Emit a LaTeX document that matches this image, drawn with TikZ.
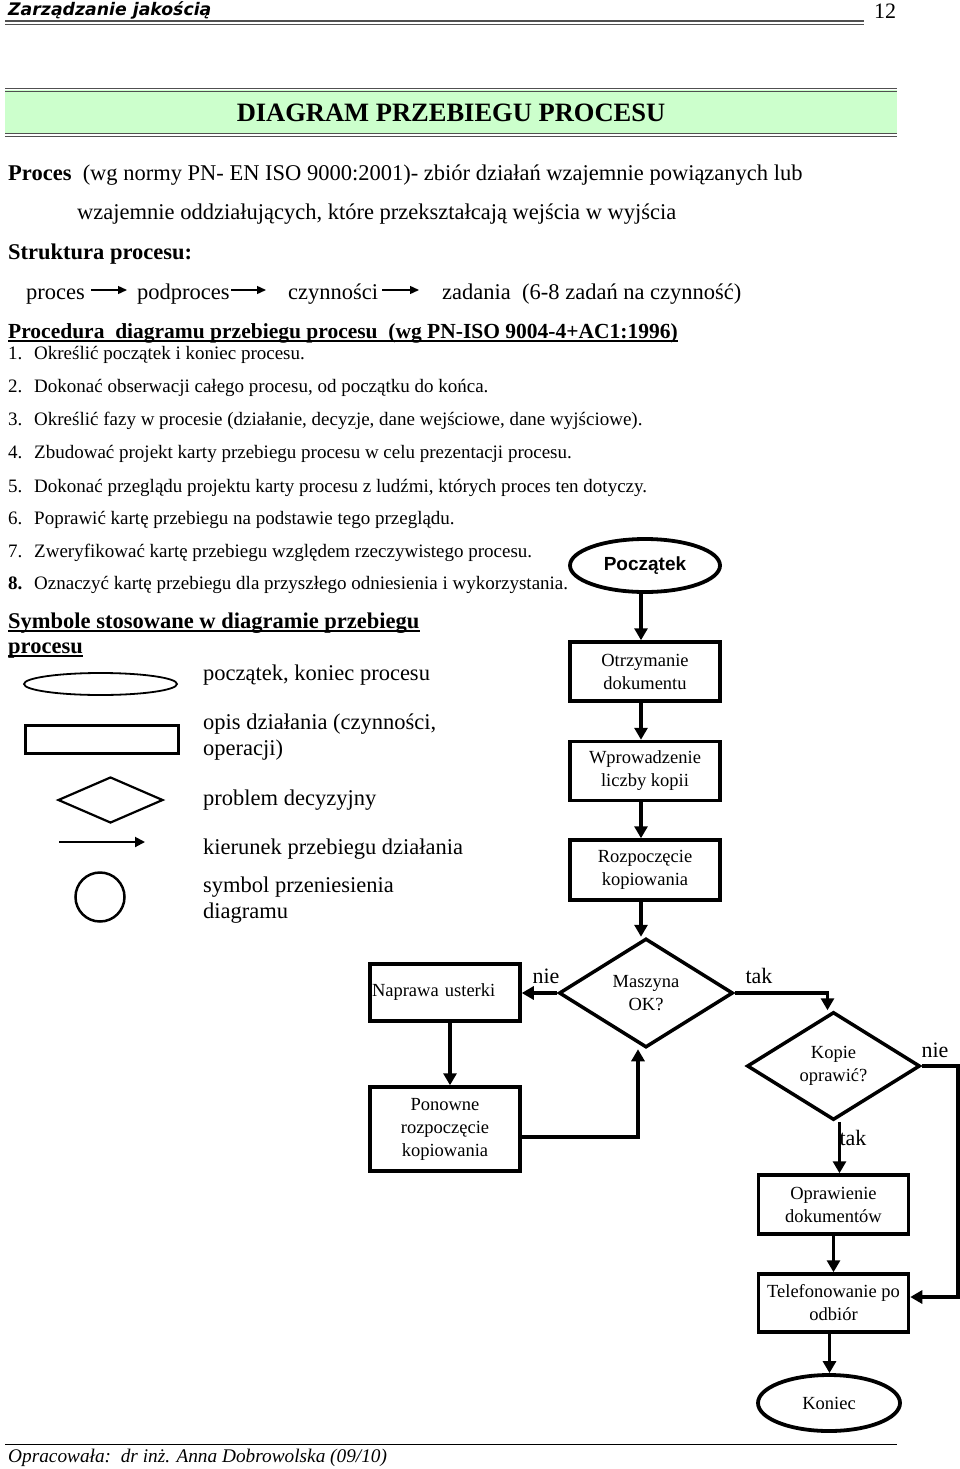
\documentclass[tikz,border=0pt]{standalone}
\usepackage{fontspec}
\usepackage{graphicx}
\setmainfont{Liberation Serif}
\newfontfamily\hdrfont{DejaVu Sans}
\newfontfamily\arialfont{Liberation Sans}
\usetikzlibrary{arrows.meta,shapes.geometric}
\newcommand{\fsz}[2]{\fontsize{#1}{#2}\selectfont}
\definecolor{bandgreen}{RGB}{204,255,204}
\definecolor{rulegray}{RGB}{80,80,80}
\begin{document}
\begin{tikzpicture}[x=1pt,y=-1pt,
  txt/.style={inner sep=0pt, anchor=base west, font=\fsz{22.5}{27}},
  lst/.style={inner sep=0pt, anchor=base west, font=\fsz{19}{22}},
  lgd/.style={inner sep=0pt, anchor=west, align=left, font=\fsz{22.5}{26}},
  fbox/.style={draw, line width=3.5pt, minimum width=150pt, minimum height=59pt, align=center, inner sep=0pt, font=\fsz{18.5}{23}},
  fell/.style={draw, ellipse, line width=3.8pt, inner sep=0pt},
  fdia/.style={draw, diamond, line width=3.5pt, aspect=1.6, inner sep=0pt, align=center, font=\fsz{18.5}{23}},
  farr/.style={line width=3.5pt, -{Triangle[length=12pt,width=13pt]}},
  sarr/.style={line width=1.4pt, -{Triangle[length=9pt,width=8pt]}},
  flab/.style={inner sep=0pt, font=\fsz{22}{24}}
]
\useasboundingbox (0,0) rectangle (960,1469);

% ---------- header ----------
\node[inner sep=0pt, anchor=west, font=\hdrfont\bfseries\itshape\fsz{17.3}{19}] (hdr) at (8,10) {Zarządzanie jakością};
\node[inner sep=0pt, anchor=west, font=\fsz{22}{24}] (pgnum) at (874,11) {12};
\draw[rulegray, line width=1.6pt] (5,21) -- (864,21);
\draw[rulegray, line width=0.8pt] (5,24) -- (864,24);

% ---------- title band ----------
\fill[bandgreen] (5,90) rectangle (897,134);
\draw[rulegray, line width=1.8pt] (5,88.5) -- (897,88.5);
\draw[rulegray, line width=0.8pt] (5,91.5) -- (897,91.5);
\draw[rulegray, line width=1.8pt] (5,133.5) -- (897,133.5);
\draw[rulegray, line width=0.8pt] (5,136.5) -- (897,136.5);
\node[inner sep=0pt, font=\bfseries\fsz{26.5}{28}] (title) at (451,113) {DIAGRAM PRZEBIEGU PROCESU};

% ---------- definition ----------
\node[txt] (def1) at (8,180) {{\bfseries Proces}\ \ (wg normy PN- EN ISO 9000:2001)- zbiór działań wzajemnie powiązanych lub};
\node[txt] (def2) at (77,219) {wzajemnie oddziałujących, które przekształcają wejścia w wyjścia};
\node[txt, font=\bfseries\fsz{22.5}{27}] (str) at (8,259) {Struktura procesu:};

% ---------- structure ----------
\node[txt] (s1) at (26,299) {proces};
\node[txt] (s2) at (137,299) {podproces};
\node[txt] (s3) at (288,299) {czynności};
\node[txt] (s4) at (442,299) {zadania\ \ (6-8 zadań na czynność)};
\coordinate (a1s) at (91,290); \coordinate (a1e) at (127,290);
\coordinate (a2s) at (231,290); \coordinate (a2e) at (266,290);
\coordinate (a3s) at (382,290); \coordinate (a3e) at (419,290);
\draw[sarr] (a1s) -- (a1e);
\draw[sarr] (a2s) -- (a2e);
\draw[sarr] (a3s) -- (a3e);

% ---------- procedure ----------
\node[txt, font=\bfseries\fsz{21.5}{26}] (proc) at (8,338) {Procedura\ \ diagramu przebiegu procesu\ \ (wg PN-ISO 9004-4+AC1:1996)};
\draw[line width=1.2pt] ([yshift=-3pt]proc.base west) -- ([yshift=-3pt]proc.base east);

\node[lst] (n1) at (8,359) {1.};  \node[lst] (t1) at (34,359) {Określić początek i koniec procesu.};
\node[lst] (n2) at (8,392) {2.};  \node[lst] (t2) at (34,392) {Dokonać obserwacji całego procesu, od początku do końca.};
\node[lst] (n3) at (8,425) {3.};  \node[lst] (t3) at (34,425) {Określić fazy w procesie (działanie, decyzje, dane wejściowe, dane wyjściowe).};
\node[lst] (n4) at (8,458) {4.};  \node[lst] (t4) at (34,458) {Zbudować projekt karty przebiegu procesu w celu prezentacji procesu.};
\node[lst] (n5) at (8,492) {5.};  \node[lst] (t5) at (34,492) {Dokonać przeglądu projektu karty procesu z ludźmi, których proces ten dotyczy.};
\node[lst] (n6) at (8,524) {6.};  \node[lst] (t6) at (34,524) {Poprawić kartę przebiegu na podstawie tego przeglądu.};
\node[lst] (n7) at (8,557) {7.};  \node[lst] (t7) at (34,557) {Zweryfikować kartę przebiegu względem rzeczywistego procesu.};
\node[lst, font=\bfseries\fsz{19}{22}] (n8) at (8,589) {8.};  \node[lst] (t8) at (34,589) {Oznaczyć kartę przebiegu dla przyszłego odniesienia i wykorzystania.};

% ---------- symbols legend ----------
\node[txt, font=\bfseries\fsz{22.5}{27}] (sym1) at (8,628) {Symbole stosowane w diagramie przebiegu};
\draw[line width=1.2pt] ([yshift=-3pt]sym1.base west) -- ([yshift=-3pt]sym1.base east);
\node[txt, font=\bfseries\fsz{22.5}{27}] (sym2) at (8,653) {procesu};
\draw[line width=1.2pt] ([yshift=-3pt]sym2.base west) -- ([yshift=-3pt]sym2.base east);

\node[draw, ellipse, line width=1.8pt, minimum width=153pt, minimum height=22pt, inner sep=0pt] (le) at (100.5,684) {};
\node[lgd] (lt1) at (203,675) {początek, koniec procesu};
\node[draw, line width=3pt, minimum width=153pt, minimum height=28pt, inner sep=0pt] (lr) at (102,739) {};
\node[lgd] (lt2) at (203,737) {opis działania (czynności,\\operacji)};
\node[draw, diamond, line width=2.2pt, minimum width=105pt, minimum height=46pt, aspect=2.3, inner sep=0pt] (ld) at (110.5,800) {};
\node[lgd] (lt3) at (203,800) {problem decyzyjny};
\coordinate (la1) at (59,842); \coordinate (la2) at (145,842);
\draw[line width=2pt, -{Triangle[length=10pt,width=10pt]}] (la1) -- (la2);
\node[lgd] (lt4) at (203,849) {kierunek przebiegu działania};
\node[draw, circle, line width=2.5pt, minimum size=49pt, inner sep=0pt] (lc) at (100,897) {};
\node[lgd] (lt5) at (203,900) {symbol przeniesienia\\diagramu};

% ---------- flowchart ----------
\node[fell, minimum width=150pt, minimum height=53pt, font=\arialfont\bfseries\fsz{19}{22}] (pocz) at (645,565.5) {Początek};
\node[fbox] (otrz) at (645,671.5) {Otrzymanie\\dokumentu};
\node[fbox] (wpro) at (645,771) {Wprowadzenie\\liczby kopii};
\node[fbox, minimum height=60pt] (rozp) at (645,870) {Rozpoczęcie\\kopiowania};
\node[fdia, minimum width=174pt, minimum height=109pt] (masz) at (646,993) {Maszyna\\OK?};
\node[fbox, minimum height=57pt, text width=146pt, align=left, inner xsep=2pt] (napr) at (445,992.5) {Naprawa usterki};
\node[fbox, minimum height=84pt] (pono) at (445,1129) {Ponowne\\rozpoczęcie\\kopiowania};
\node[fdia, minimum width=173pt, minimum height=108pt] (kopi) at (833.5,1066) {Kopie\\oprawić?};
\node[fbox] (opra) at (833.5,1204.5) {Oprawienie\\dokumentów};
\node[fbox, minimum height=58pt] (tele) at (833.5,1303) {Telefonowanie po\\odbiór};
\node[fell, minimum width=142pt, minimum height=56pt, font=\fsz{18.5}{22}] (koni) at (829,1403) {Koniec};

\draw[farr] ([xshift=-4pt]pocz.south) -- ([xshift=-4pt]otrz.north);
\draw[farr] ([xshift=-4pt]otrz.south) -- ([xshift=-4pt]wpro.north);
\draw[farr] ([xshift=-4pt]wpro.south) -- ([xshift=-4pt]rozp.north);
\draw[farr] ([xshift=-4pt]rozp.south) -- ([xshift=-4pt]rozp.south |- masz.north);
\draw[farr] (masz.west) -- (masz.west -| napr.east);
\draw[farr] ([xshift=5pt]napr.south) -- ([xshift=5pt]pono.north);
\draw[farr] ([yshift=-8pt]pono.east) -| ([xshift=-8pt]masz.south);
\draw[farr] (masz.east) -| ([xshift=-6pt]kopi.north);
\draw[farr] ([xshift=6pt]kopi.south) -- ([xshift=6pt]opra.north);
\draw[farr] (kopi.east) -- ++(36,0) |- ([yshift=6pt]tele.east);
\draw[farr] (opra) -- (tele);
\draw[farr] ([xshift=-4pt]tele.south) -- ([xshift=-4pt]tele.south |- koni.north);

\node[flab] (lnie1) at (546,976) {nie};
\node[flab] (ltak1) at (759,976) {tak};
\node[flab] (lnie2) at (935,1050) {nie};
\node[flab] (ltak2) at (853,1138) {tak};

% ---------- footer ----------
\draw[line width=1pt] (5,1444) -- (897,1444);
\node[inner sep=0pt, anchor=west, font=\itshape\fsz{19.3}{22}] (foot) at (8,1458) {Opracowała:\ \ dr inż. Anna Dobrowolska (09/10)};
\end{tikzpicture}
\end{document}
